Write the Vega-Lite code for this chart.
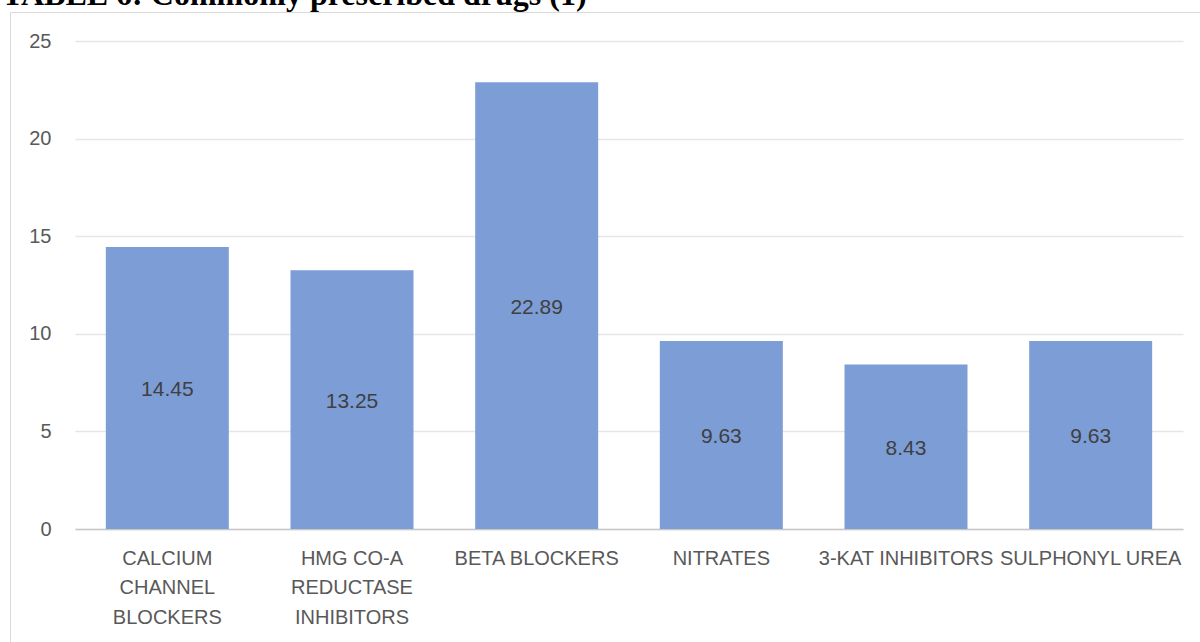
{
  "$schema": "https://vega.github.io/schema/vega-lite/v6.json",
  "autosize": {"type": "none"},
  "padding": {"left": 10, "top": 12, "right": 0, "bottom": 0},
  "width": 1190,
  "height": 630,
  "background": "white",
  "config": {
    "view": {"stroke": "#D9D9D9", "strokeWidth": 1},
    "axis": {"labelFont": "Liberation Sans", "labelFontSize": 20, "labelColor": "#595959"}
  },
  "title": {
    "text": "TABLE 6: Commonly prescribed drugs (1)",
    "anchor": "start",
    "frame": "group",
    "font": "Liberation Serif",
    "fontSize": 32,
    "fontWeight": "bold",
    "color": "#000000",
    "baseline": "alphabetic",
    "offset": 0,
    "dx": -8,
    "dy": 25
  },
  "data": {
    "values": [
      {"drug": "CALCIUM CHANNEL BLOCKERS", "value": 14.45},
      {"drug": "HMG CO-A REDUCTASE INHIBITORS", "value": 13.25},
      {"drug": "BETA BLOCKERS", "value": 22.89},
      {"drug": "NITRATES", "value": 9.63},
      {"drug": "3-KAT INHIBITORS", "value": 8.43},
      {"drug": "SULPHONYL UREA", "value": 9.63}
    ]
  },
  "encoding": {
    "x": {
      "field": "drug",
      "type": "nominal",
      "sort": null,
      "title": null,
      "scale": {"range": [65, 1173], "paddingInner": 0.334, "paddingOuter": 0.167},
      "axis": {
        "orient": "bottom",
        "offset": -113,
        "labelAngle": 0,
        "domainColor": "#C8C8C8",
        "domainWidth": 1.5,
        "ticks": false,
        "labelPadding": 19,
        "labelBaseline": "top",
        "labelLineHeight": 29.5,
        "labelLimit": 300,
        "labelExpr": "datum.value == 'CALCIUM CHANNEL BLOCKERS' ? ['CALCIUM', 'CHANNEL', 'BLOCKERS'] : datum.value == 'HMG CO-A REDUCTASE INHIBITORS' ? ['HMG CO-A', 'REDUCTASE', 'INHIBITORS'] : datum.value"
      }
    }
  },
  "layer": [
    {
      "mark": {"type": "bar", "color": "#7C9DD6"},
      "encoding": {
        "y": {
          "field": "value",
          "type": "quantitative",
          "title": null,
          "scale": {"domain": [0, 25], "range": [517, 29], "nice": false},
          "axis": {
            "orient": "left",
            "offset": -65,
            "values": [0, 5, 10, 15, 20, 25],
            "domain": false,
            "ticks": false,
            "labelPadding": 24,
            "gridColor": "#E6E6E6",
            "gridWidth": 1.5
          }
        }
      }
    },
    {
      "mark": {"type": "text", "font": "Liberation Sans", "fontSize": 21, "color": "#404040", "baseline": "middle", "dy": 2},
      "encoding": {
        "y": {"field": "value", "type": "quantitative", "stack": "zero", "bandPosition": 0.5},
        "text": {"field": "value", "type": "quantitative", "format": ".2f"}
      }
    }
  ]
}
